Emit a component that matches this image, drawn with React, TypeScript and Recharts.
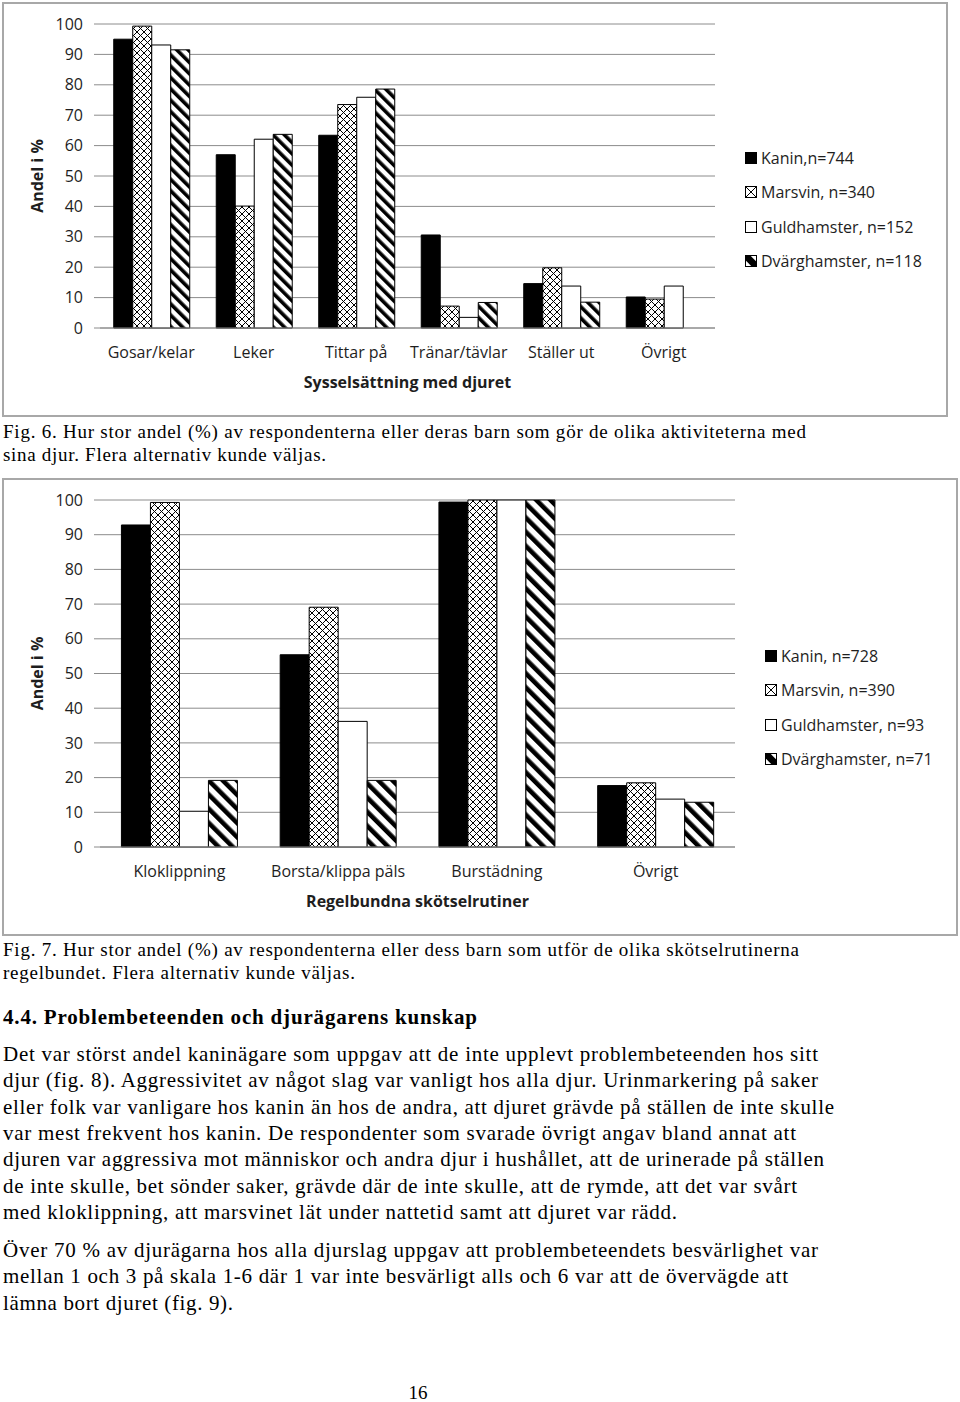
import React from 'react';
import { BarChart, Bar, XAxis, YAxis, CartesianGrid, Legend, Label } from 'recharts';

// ---------- Fig. 6 data ----------
const categories1 = ['Gosar/kelar', 'Leker', 'Tittar på', 'Tränar/tävlar', 'Ställer ut', 'Övrigt'];
const kanin1 = [95.0, 57.0, 63.4, 30.6, 14.6, 10.2];
const marsvin1 = [99.3, 40.1, 73.5, 7.2, 19.8, 9.5];
const guld1 = [93.1, 62.1, 75.9, 3.5, 13.8, 13.8];
const dvarg1: (number | null)[] = [91.5, 63.7, 78.6, 8.4, 8.5, null];
const legend1 = ['Kanin,n=744', 'Marsvin, n=340', 'Guldhamster, n=152', 'Dvärghamster, n=118'];
const xTitle1 = 'Sysselsättning med djuret';

// ---------- Fig. 7 data ----------
const categories2 = ['Kloklippning', 'Borsta/klippa päls', 'Burstädning', 'Övrigt'];
const kanin2 = [92.8, 55.4, 99.4, 17.7];
const marsvin2 = [99.3, 69.1, 100, 18.5];
const guld2 = [10.3, 36.2, 100, 13.8];
const dvarg2 = [19.2, 19.2, 100, 12.9];
const legend2 = ['Kanin, n=728', 'Marsvin, n=390', 'Guldhamster, n=93', 'Dvärghamster, n=71'];
const xTitle2 = 'Regelbundna skötselrutiner';

const seriesKeys = ['kanin', 'marsvin', 'guld', 'dvarg'];
const yTicks = [0, 10, 20, 30, 40, 50, 60, 70, 80, 90, 100];
const yTitle = 'Andel i %';

// ---------- page text ----------
const fig6Caption = [
  'Fig. 6. Hur stor andel (%) av respondenterna eller deras barn som gör de olika aktiviteterna med',
  'sina djur. Flera alternativ kunde väljas.',
];
const fig7Caption = [
  'Fig. 7. Hur stor andel (%) av respondenterna eller dess barn som utför de olika skötselrutinerna',
  'regelbundet. Flera alternativ kunde väljas.',
];
const heading = '4.4. Problembeteenden och djurägarens kunskap';
const para1 = [
  'Det var störst andel kaninägare som uppgav att de inte upplevt problembeteenden hos sitt',
  'djur (fig. 8). Aggressivitet av något slag var vanligt hos alla djur. Urinmarkering på saker',
  'eller folk var vanligare hos kanin än hos de andra, att djuret grävde på ställen de inte skulle',
  'var mest frekvent hos kanin. De respondenter som svarade övrigt angav bland annat att',
  'djuren var aggressiva mot människor och andra djur i hushållet, att de urinerade på ställen',
  'de inte skulle, bet sönder saker, grävde där de inte skulle, att de rymde, att det var svårt',
  'med kloklippning, att marsvinet lät under nattetid samt att djuret var rädd.',
];
const para2 = [
  'Över 70 % av djurägarna hos alla djurslag uppgav att problembeteendets besvärlighet var',
  'mellan 1 och 3 på skala 1-6 där 1 var inte besvärligt alls och 6 var att de övervägde att',
  'lämna bort djuret (fig. 9).',
];
const pageNumber = '16';

const data1 = categories1.map((cat, i) => ({
  cat, kanin: kanin1[i], marsvin: marsvin1[i], guld: guld1[i], dvarg: dvarg1[i],
}));
const data2 = categories2.map((cat, i) => ({
  cat, kanin: kanin2[i], marsvin: marsvin2[i], guld: guld2[i], dvarg: dvarg2[i],
}));
const edges1 = [...categories1.map((_, i) => i), categories1.length];
const edges2 = [...categories2.map((_, i) => i), categories2.length];

const FONT = '"Open Sans", sans-serif';
const SERIF = '"Liberation Serif", "Times New Roman", serif';
const GRID = '#8c8c8c';
const INK = '#1e1e1e';

function legendIcon(key: string, s: number) {
  if (key === 'kanin') return <rect x={0.5} y={0.5} width={s - 1} height={s - 1} fill="#000" stroke="#000" />;
  if (key === 'marsvin')
    return (
      <g stroke="#000" strokeWidth={1}>
        <rect x={0.5} y={0.5} width={s - 1} height={s - 1} fill="#fff" />
        <path d={`M0.5,0.5 L${s - 0.5},${s - 0.5} M${s - 0.5},0.5 L0.5,${s - 0.5}`} />
      </g>
    );
  if (key === 'guld') return <rect x={0.5} y={0.5} width={s - 1} height={s - 1} fill="#fff" stroke="#000" />;
  return (
    <g>
      <rect x={0.5} y={0.5} width={s - 1} height={s - 1} fill="#fff" stroke="#000" />
      <polygon points={`0,0 ${s * 0.4},0 ${s},${s * 0.6} ${s},${s} ${s * 0.6},${s} 0,${s * 0.4}`} fill="#000" />
    </g>
  );
}

function makeLegend(iconSize: number, rowH: number) {
  return (props: any) => {
    const payload = [...(props.payload || [])].sort(
      (a: any, b: any) => seriesKeys.indexOf(String(a.dataKey)) - seriesKeys.indexOf(String(b.dataKey))
    );
    return (
      <div style={{ fontFamily: FONT, fontSize: 16, color: INK }}>
        {payload.map((p: any, i: number) => (
          <div key={i} style={{ height: rowH, display: 'flex', alignItems: 'center', whiteSpace: 'nowrap' }}>
            <svg width={iconSize} height={iconSize} style={{ marginRight: 4, flex: 'none' }}>
              {legendIcon(String(p.dataKey), iconSize)}
            </svg>
            <span>{p.value}</span>
          </div>
        ))}
      </div>
    );
  };
}

function Patterns({ n, cell, period, band }: { n: number; cell: number; period: number; band: number }) {
  return (
    <defs>
      <pattern id={`cross${n}`} patternUnits="userSpaceOnUse" width={cell} height={cell}>
        <rect width={cell} height={cell} fill="#fff" />
        <path d={`M0,0 L${cell},${cell} M${cell},0 L0,${cell}`} stroke="#000" strokeWidth={1} />
      </pattern>
      <pattern id={`stripe${n}`} patternUnits="userSpaceOnUse" width={period} height={period} patternTransform="rotate(-45)">
        <rect width={period} height={period} fill="#fff" />
        <rect width={band} height={period} fill="#000" />
      </pattern>
    </defs>
  );
}

type ChartProps = {
  n: number;
  data: any[];
  edges: number[];
  labels: string[];
  xTitle: string;
  width: number;
  height: number;
  marginRight: number;
  gap: string;
  legendLeft: number;
  legendTop: number;
  iconSize: number;
  cell: number;
  period: number;
  band: number;
};

function Chart(p: ChartProps) {
  const tickStyle = { fontFamily: FONT, fontSize: 16, fill: INK };
  return (
    <BarChart
      width={p.width}
      height={p.height}
      data={p.data}
      margin={{ top: 20, right: p.marginRight, bottom: 27, left: 0 }}
      barCategoryGap={p.gap}
      barGap={0}
    >
      <Patterns n={p.n} cell={p.cell} period={p.period} band={p.band} />
      <CartesianGrid vertical={false} stroke={GRID} strokeWidth={1} />
      <XAxis
        xAxisId="edge"
        type="number"
        domain={[0, p.edges.length - 1]}
        ticks={p.edges}
        tick={false}
        tickLine={{ stroke: GRID }}
        tickSize={5}
        axisLine={false}
        height={0}
        allowDataOverflow
      />
      <XAxis
        dataKey="cat"
        tickLine={false}
        tickSize={0}
        tickMargin={19}
        interval={0}
        axisLine={{ stroke: GRID }}
        tick={tickStyle}
        height={60}
      >
        <Label value={p.xTitle} position="insideBottom" offset={0}
          style={{ fontFamily: FONT, fontSize: 16, fontWeight: 700, fill: INK }} />
      </XAxis>
      <YAxis
        domain={[0, 100]}
        ticks={yTicks}
        interval={0}
        axisLine={false}
        tickLine={{ stroke: GRID }}
        tickSize={6}
        tickMargin={11}
        width={96}
        tick={tickStyle}
      >
        <Label value={yTitle} angle={-90} position="insideLeft" offset={33}
          style={{ fontFamily: FONT, fontSize: 16, fontWeight: 700, fill: INK, textAnchor: 'middle' }} />
      </YAxis>
      <Legend
        layout="vertical"
        align="center"
        verticalAlign="middle"
        content={makeLegend(p.iconSize, 34.3)}
        wrapperStyle={{ left: p.legendLeft, top: p.legendTop, width: 220 }}
      />
      <Bar dataKey="kanin" name={p.labels[0]} fill="#000" stroke="#000" strokeWidth={1} isAnimationActive={false} />
      <Bar dataKey="marsvin" name={p.labels[1]} fill={`url(#cross${p.n})`} stroke="#000" strokeWidth={1} isAnimationActive={false} />
      <Bar dataKey="guld" name={p.labels[2]} fill="#fff" stroke="#000" strokeWidth={1} isAnimationActive={false} />
      <Bar dataKey="dvarg" name={p.labels[3]} fill={`url(#stripe${p.n})`} stroke="#000" strokeWidth={1} isAnimationActive={false} />
    </BarChart>
  );
}

function Lines({ lines, x, y0, step, size, bold, ends }: {
  lines: string[]; x: number; y0: number; step: number; size: number; bold?: boolean; ends?: number[];
}) {
  return (
    <>
      {lines.map((t, i) => (
        <text
          key={i}
          x={x}
          y={y0 + i * step}
          fontFamily={SERIF}
          fontSize={size}
          fontWeight={bold ? 700 : 400}
          fill="#000"
          {...(ends && ends[i] ? { textLength: ends[i] - x, lengthAdjust: 'spacing' } : {})}
        >
          {t}
        </text>
      ))}
    </>
  );
}

export default function App() {
  return (
    <div style={{ position: 'absolute', left: 0, top: 0, width: 960, height: 1402, background: '#fff', overflow: 'hidden' }}>
      <svg width={960} height={1402} style={{ position: 'absolute', left: 0, top: 0 }}>
        <Lines lines={fig6Caption} x={3} y0={438} step={23} size={19} ends={[806, 326]} />
        <Lines lines={fig7Caption} x={3} y0={956} step={22.5} size={19} ends={[799, 355]} />
        <Lines lines={[heading]} x={3} y0={1024} step={0} size={21} bold ends={[477]} />
        <Lines lines={para1} x={3} y0={1061} step={26.3} size={21} ends={[818, 818, 834, 796, 824, 797, 677]} />
        <Lines lines={para2} x={3} y0={1257} step={26.3} size={21} ends={[818, 788, 233]} />
        <text x={418} y={1399} fontFamily={SERIF} fontSize={19} textAnchor="middle" fill="#000">{pageNumber}</text>
      </svg>

      <div style={{ position: 'absolute', left: 2, top: 2, width: 946, height: 415, border: '2px solid #a8a8a8', boxSizing: 'border-box' }}>
        <Chart
          n={1} data={data1} edges={edges1} labels={legend1} xTitle={xTitle1}
          width={942} height={411} marginRight={231} gap="13.4%"
          legendLeft={741} legendTop={137} iconSize={12}
          cell={7} period={8} band={3.6}
        />
      </div>

      <div style={{ position: 'absolute', left: 2, top: 478, width: 956, height: 458, border: '2px solid #a8a8a8', boxSizing: 'border-box' }}>
        <Chart
          n={2} data={data2} edges={edges2} labels={legend2} xTitle={xTitle2}
          width={952} height={454} marginRight={221} gap="13.5%"
          legendLeft={761} legendTop={159} iconSize={12}
          cell={7} period={10} band={4.6}
        />
      </div>
    </div>
  );
}
